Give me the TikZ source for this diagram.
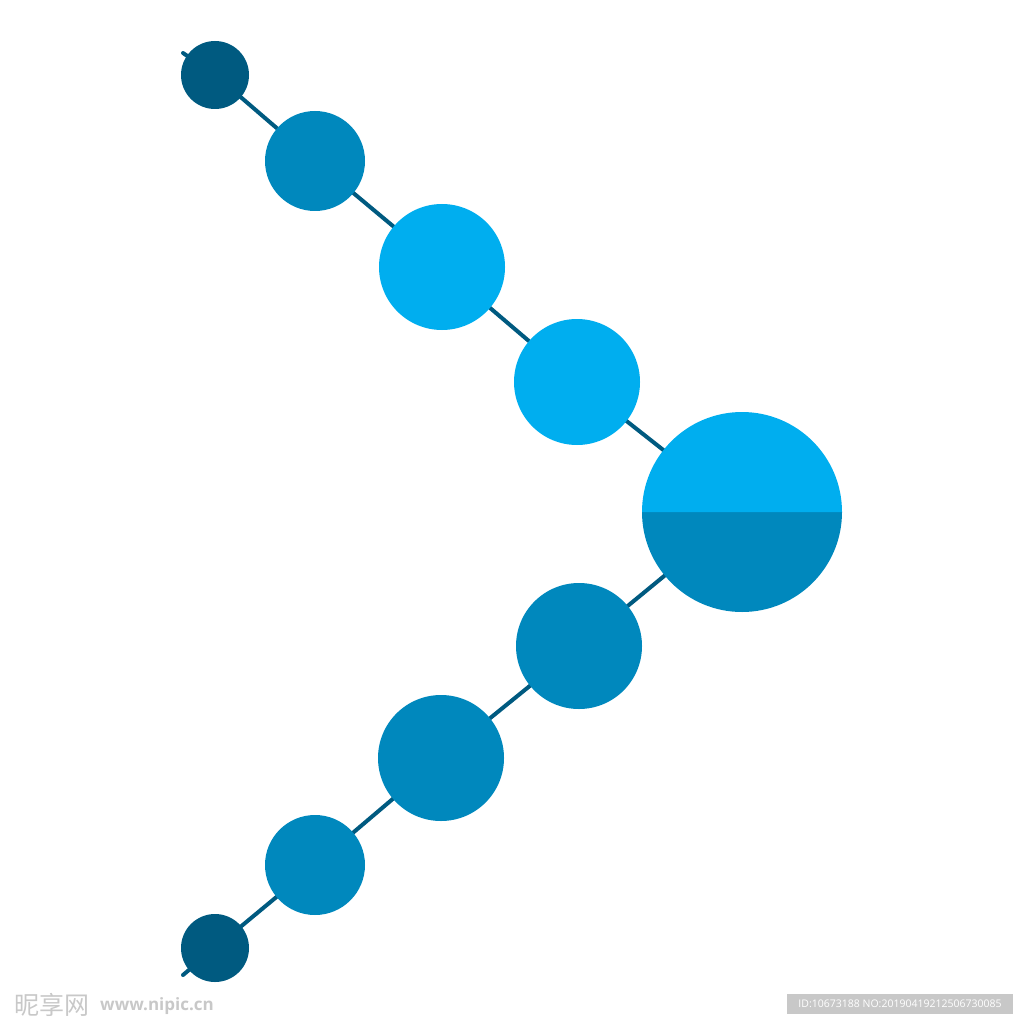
\documentclass[tikz,border=0pt]{standalone}
\usepackage{fontspec}
\setmainfont{Open Sans}
\newfontfamily\cjk{Noto Sans CJK SC}
\usetikzlibrary{backgrounds}
\definecolor{deep}{HTML}{005A80}
\definecolor{mid}{HTML}{0088BD}
\definecolor{lite}{HTML}{00AEEF}
\definecolor{wm}{HTML}{C8C8C8}
\tikzset{
  dot/.style={circle, inner sep=0pt, draw=none},
  link/.style={draw=deep, line width=4pt, line cap=round}
}
\begin{document}
\begin{tikzpicture}[x=1pt,y=-1pt]
\useasboundingbox (0,0) rectangle (1024,1024);
\coordinate (s1) at (183,53);
\coordinate (s2) at (183,975);
\node[dot, fill=deep, minimum size=68pt] (c1) at (215,75) {};
\node[dot, fill=mid, minimum size=100pt] (c2) at (315,161) {};
\node[dot, fill=lite, minimum size=126pt] (c3) at (442,267) {};
\node[dot, fill=lite, minimum size=126pt] (c4) at (577,382) {};
\node[dot, minimum size=200pt] (c5) at (742,512) {};
\fill[mid] (642,512) arc[start angle=180, end angle=0, radius=100] -- cycle;
\fill[lite] (642,512) arc[start angle=180, end angle=360, radius=100] -- cycle;
\node[dot, fill=mid, minimum size=126pt] (c6) at (579,646) {};
\node[dot, fill=mid, minimum size=126pt] (c7) at (441,758) {};
\node[dot, fill=mid, minimum size=100pt] (c8) at (315,865) {};
\node[dot, fill=deep, minimum size=68pt] (c9) at (215,948) {};
\begin{scope}[on background layer]
\draw[link] (s1) -- (c1.center) -- (c2.center) -- (c3.center) -- (c4.center) -- (c5.center);
\draw[link] (s2) -- (c9.center) -- (c8.center) -- (c7.center) -- (c6.center) -- (c5.center);
\end{scope}
\node[anchor=west, inner sep=0pt, text=wm, font=\cjk\fontsize{25}{25}\selectfont] (w1) at (14,1005) {昵享网};
\node[anchor=west, inner sep=0pt, text=wm, font=\bfseries\fontsize{17}{17}\selectfont] (w2) at (100,1006) {www.nipic.cn};
\node[fill=wm, text=white, inner sep=0pt, minimum width=226pt, minimum height=20pt, font=\fontsize{10.5}{10.5}\selectfont] (idb) at (900,1004) {ID:10673188 NO:20190419212506730085};
\end{tikzpicture}
\end{document}
